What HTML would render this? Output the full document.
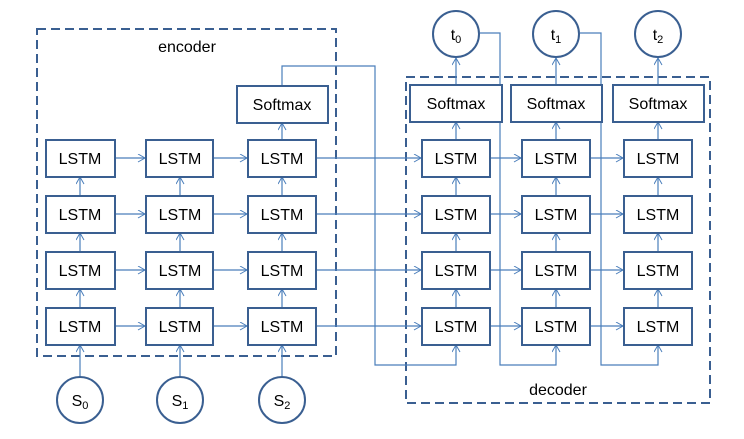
<!DOCTYPE html><html><head><style>body{margin:0;background:#fff}</style></head><body>
<svg width="744" height="434" xmlns="http://www.w3.org/2000/svg" font-family="Liberation Sans, sans-serif">
<defs><marker id="a" markerWidth="10" markerHeight="10" refX="8" refY="4" orient="auto" markerUnits="userSpaceOnUse"><path d="M1,0 L8,4 L1,8" fill="none" stroke="#4a7ebb" stroke-width="1"/></marker></defs>
<g fill="none" stroke="#3a5f91" stroke-width="2" stroke-dasharray="9,5">
<rect x="37" y="29" width="299" height="327"/>
<rect x="406" y="77" width="304" height="326"/>
</g>
<g stroke="#4a7ebb" stroke-width="1.2" fill="none">
<!-- encoder horizontals -->
<g marker-end="url(#a)">
<line x1="115" y1="158" x2="145" y2="158"/><line x1="213" y1="158" x2="247" y2="158"/>
<line x1="115" y1="214" x2="145" y2="214"/><line x1="213" y1="214" x2="247" y2="214"/>
<line x1="115" y1="270" x2="145" y2="270"/><line x1="213" y1="270" x2="247" y2="270"/>
<line x1="115" y1="326" x2="145" y2="326"/><line x1="213" y1="326" x2="247" y2="326"/>
<line x1="316" y1="158" x2="421" y2="158"/><line x1="316" y1="214" x2="421" y2="214"/>
<line x1="316" y1="270" x2="421" y2="270"/><line x1="316" y1="326" x2="421" y2="326"/>
<line x1="490" y1="158" x2="521" y2="158"/><line x1="590" y1="158" x2="623" y2="158"/>
<line x1="490" y1="214" x2="521" y2="214"/><line x1="590" y1="214" x2="623" y2="214"/>
<line x1="490" y1="270" x2="521" y2="270"/><line x1="590" y1="270" x2="623" y2="270"/>
<line x1="490" y1="326" x2="521" y2="326"/><line x1="590" y1="326" x2="623" y2="326"/>
</g>
<g marker-end="url(#a)">
<line x1="80" y1="377" x2="80" y2="345"/><line x1="180" y1="377" x2="180" y2="345"/><line x1="282" y1="377" x2="282" y2="345"/>
<line x1="80" y1="308" x2="80" y2="289"/><line x1="80" y1="252" x2="80" y2="233"/><line x1="80" y1="196" x2="80" y2="177"/>
<line x1="180" y1="308" x2="180" y2="289"/><line x1="180" y1="252" x2="180" y2="233"/><line x1="180" y1="196" x2="180" y2="177"/>
<line x1="282" y1="308" x2="282" y2="289"/><line x1="282" y1="252" x2="282" y2="233"/><line x1="282" y1="196" x2="282" y2="177"/>
<line x1="282" y1="140" x2="282" y2="123"/>
<line x1="456" y1="308" x2="456" y2="289"/><line x1="456" y1="252" x2="456" y2="233"/><line x1="456" y1="196" x2="456" y2="177"/><line x1="456" y1="140" x2="456" y2="122"/><line x1="456" y1="85" x2="456" y2="58"/>
<line x1="556" y1="308" x2="556" y2="289"/><line x1="556" y1="252" x2="556" y2="233"/><line x1="556" y1="196" x2="556" y2="177"/><line x1="556" y1="140" x2="556" y2="122"/><line x1="556" y1="85" x2="556" y2="58"/>
<line x1="658" y1="308" x2="658" y2="289"/><line x1="658" y1="252" x2="658" y2="233"/><line x1="658" y1="196" x2="658" y2="177"/><line x1="658" y1="140" x2="658" y2="122"/><line x1="658" y1="85" x2="658" y2="58"/>
<polyline points="282,86 282,66 375,66 375,365 456,365 456,345"/>
<polyline points="480,33 500,33 500,365 556,365 556,345"/>
<polyline points="580,33 601,33 601,365 658,365 658,345"/>
</g>
</g>
<g fill="#fff" stroke="#3a5f91" stroke-width="2">
<rect x="46" y="140" width="69" height="37"/><rect x="146" y="140" width="67" height="37"/><rect x="248" y="140" width="68" height="37"/>
<rect x="46" y="196" width="69" height="37"/><rect x="146" y="196" width="67" height="37"/><rect x="248" y="196" width="68" height="37"/>
<rect x="46" y="252" width="69" height="37"/><rect x="146" y="252" width="67" height="37"/><rect x="248" y="252" width="68" height="37"/>
<rect x="46" y="308" width="69" height="37"/><rect x="146" y="308" width="67" height="37"/><rect x="248" y="308" width="68" height="37"/>
<rect x="237" y="86" width="91" height="37"/>
<rect x="422" y="140" width="68" height="37"/><rect x="522" y="140" width="68" height="37"/><rect x="624" y="140" width="68" height="37"/>
<rect x="422" y="196" width="68" height="37"/><rect x="522" y="196" width="68" height="37"/><rect x="624" y="196" width="68" height="37"/>
<rect x="422" y="252" width="68" height="37"/><rect x="522" y="252" width="68" height="37"/><rect x="624" y="252" width="68" height="37"/>
<rect x="422" y="308" width="68" height="37"/><rect x="522" y="308" width="68" height="37"/><rect x="624" y="308" width="68" height="37"/>
<rect x="410" y="85" width="92" height="37"/><rect x="511" y="85" width="91" height="37"/><rect x="613" y="85" width="91" height="37"/>
<circle cx="80" cy="400" r="23"/><circle cx="180" cy="400" r="23"/><circle cx="282" cy="400" r="23"/>
<circle cx="456" cy="34" r="23"/><circle cx="556" cy="34" r="23"/><circle cx="658" cy="34" r="23"/>
</g>
<g font-size="16" text-anchor="middle" fill="#000">
<g>
<text x="80" y="164">LSTM</text><text x="180" y="164">LSTM</text><text x="282" y="164">LSTM</text>
<text x="80" y="220">LSTM</text><text x="180" y="220">LSTM</text><text x="282" y="220">LSTM</text>
<text x="80" y="276">LSTM</text><text x="180" y="276">LSTM</text><text x="282" y="276">LSTM</text>
<text x="80" y="332">LSTM</text><text x="180" y="332">LSTM</text><text x="282" y="332">LSTM</text>
<text x="456" y="164">LSTM</text><text x="556" y="164">LSTM</text><text x="658" y="164">LSTM</text>
<text x="456" y="220">LSTM</text><text x="556" y="220">LSTM</text><text x="658" y="220">LSTM</text>
<text x="456" y="276">LSTM</text><text x="556" y="276">LSTM</text><text x="658" y="276">LSTM</text>
<text x="456" y="332">LSTM</text><text x="556" y="332">LSTM</text><text x="658" y="332">LSTM</text>
<text x="282" y="110">Softmax</text>
<text x="456" y="109">Softmax</text><text x="556" y="109">Softmax</text><text x="658" y="109">Softmax</text>
<text x="187" y="52">encoder</text><text x="558" y="395">decoder</text>
</g>
<text x="80" y="406">S<tspan font-size="11" dy="3">0</tspan></text>
<text x="180" y="406">S<tspan font-size="11" dy="3">1</tspan></text>
<text x="282" y="406">S<tspan font-size="11" dy="3">2</tspan></text>
<text x="456" y="40">t<tspan font-size="11" dy="3">0</tspan></text>
<text x="556" y="40">t<tspan font-size="11" dy="3">1</tspan></text>
<text x="658" y="40">t<tspan font-size="11" dy="3">2</tspan></text>
</g>
</svg>
</body></html>
